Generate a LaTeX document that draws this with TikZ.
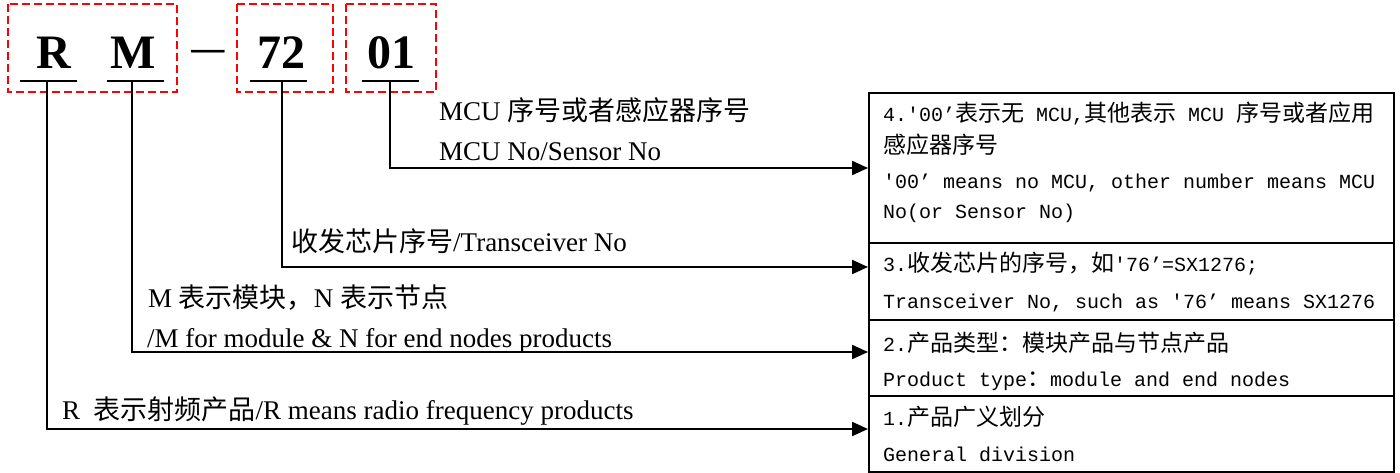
\documentclass[tikz,border=0pt]{standalone}
\usepackage{fontspec}
\setmainfont{Liberation Serif}
\newfontfamily\cjk{Noto Sans CJK SC}
\newfontfamily\mono{Liberation Mono}
\usetikzlibrary{arrows.meta,calc}
\newcommand\lz[1]{{\cjk #1}}
\newcommand\bz[1]{{\cjk\fontsize{23}{30}\selectfont #1}}
\newcommand\boxtextfont{\mono\fontsize{20}{30}\selectfont\spaceskip=12pt\relax}
\begin{document}
\begin{tikzpicture}[x=1pt,y=-1pt,
  lbl/.style={anchor=base west, inner sep=0pt, font=\fontsize{27}{30}\selectfont},
  big/.style={anchor=base, inner sep=0pt, font=\fontsize{48}{50}\selectfont\bfseries},
  dbox/.style={draw=red, line width=2pt, dash pattern=on 8pt off 4pt},
  uline/.style={line width=2.5pt},
  conn/.style={line width=2.2pt, -{Triangle[length=16pt,width=14pt]}},
  infobox/.style={draw, line width=2pt, anchor=north west, minimum width=525pt, inner sep=0pt},
  btxt/.style={anchor=base west, inner sep=0pt, font=\boxtextfont}
]
\useasboundingbox (0,0) rectangle (1400,472);

% code letters
\node[big] (cR) at (54,68) {R};
\node[big] (cM) at (133,68) {M};
\node[anchor=base, inner sep=0pt, font=\cjk\fontsize{42}{42}\selectfont] (cdash) at (208,63) {—};
\node[big] (c72) at (281,68) {72};
\node[big] (c01) at (391,68) {01};

% dashed frames
\draw[dbox] (8,4) rectangle (177,92);
\draw[dbox] (237,4) rectangle (333,92);
\draw[dbox] (346,4) rectangle (436,92);

% underlines
\draw[uline] (20,81) -- (77,81);
\draw[uline] (107,81) -- (164,81);
\draw[uline] (250,81) -- (307,81);
\draw[uline] (362,81) -- (419,81);

% right boxes
\node[infobox, minimum height=150pt] (b4) at (868,92) {};
\node[infobox, minimum height=77pt] (b3) at (868,242) {};
\node[infobox, minimum height=76pt] (b2) at (868,319) {};
\node[infobox, minimum height=76pt] (b1) at (868,395) {};

% box texts
\node[btxt] (t4a) at (883,121) {4.'00’\bz{表示无} MCU,\bz{其他表示} MCU \bz{序号或者应用}};
\node[btxt] (t4b) at (883,153.5) {\bz{感应器序号}};
\node[btxt] (t4c) at (883,188) {'00’ means no MCU, other number means MCU};
\node[btxt] (t4d) at (883,218) {No(or Sensor No)};
\node[btxt] (t3a) at (883,271) {3.\bz{收发芯片的序号，如}'76’=SX1276;};
\node[btxt] (t3b) at (883,308) {Transceiver No, such as '76’ means SX1276};
\node[btxt] (t2a) at (883,351) {2.\bz{产品类型：模块产品与节点产品}};
\node[btxt] (t2b) at (883,386) {Product type\bz{：}module and end nodes};
\node[btxt] (t1a) at (883,425) {1.\bz{产品广义划分}};
\node[btxt] (t1b) at (883,461) {General division};

% labels
\node[lbl] (l01a) at (439,120) {MCU \lz{序号或者感应器序号}};
\node[lbl] (l01b) at (439,160) {MCU No/Sensor No};
\node[lbl] (l72) at (291,251) {\lz{收发芯片序号}/Transceiver No};
\node[lbl] (lMa) at (148,307) {M \lz{表示模块，}N \lz{表示节点}};
\node[lbl] (lMb) at (147,347) {/M for module \& N for end nodes products};
\node[lbl] (lR) at (62,419) {R\ \ \lz{表示射频产品}/R means radio frequency products};

% connectors
\coordinate (t01) at (390,81); \coordinate (k01) at (390,168);
\coordinate (t72) at (282,81); \coordinate (k72) at (282,267);
\coordinate (tM) at (132,81);  \coordinate (kM) at (132,352);
\coordinate (tR) at (47,81);   \coordinate (kR) at (47,429);
\draw[conn] (t01) -- (k01) -- (k01 -| b4.west);
\draw[conn] (t72) -- (k72) -- (k72 -| b3.west);
\draw[conn] (tM) -- (kM) -- (kM -| b2.west);
\draw[conn] (tR) -- (kR) -- (kR -| b1.west);
\end{tikzpicture}
\end{document}
